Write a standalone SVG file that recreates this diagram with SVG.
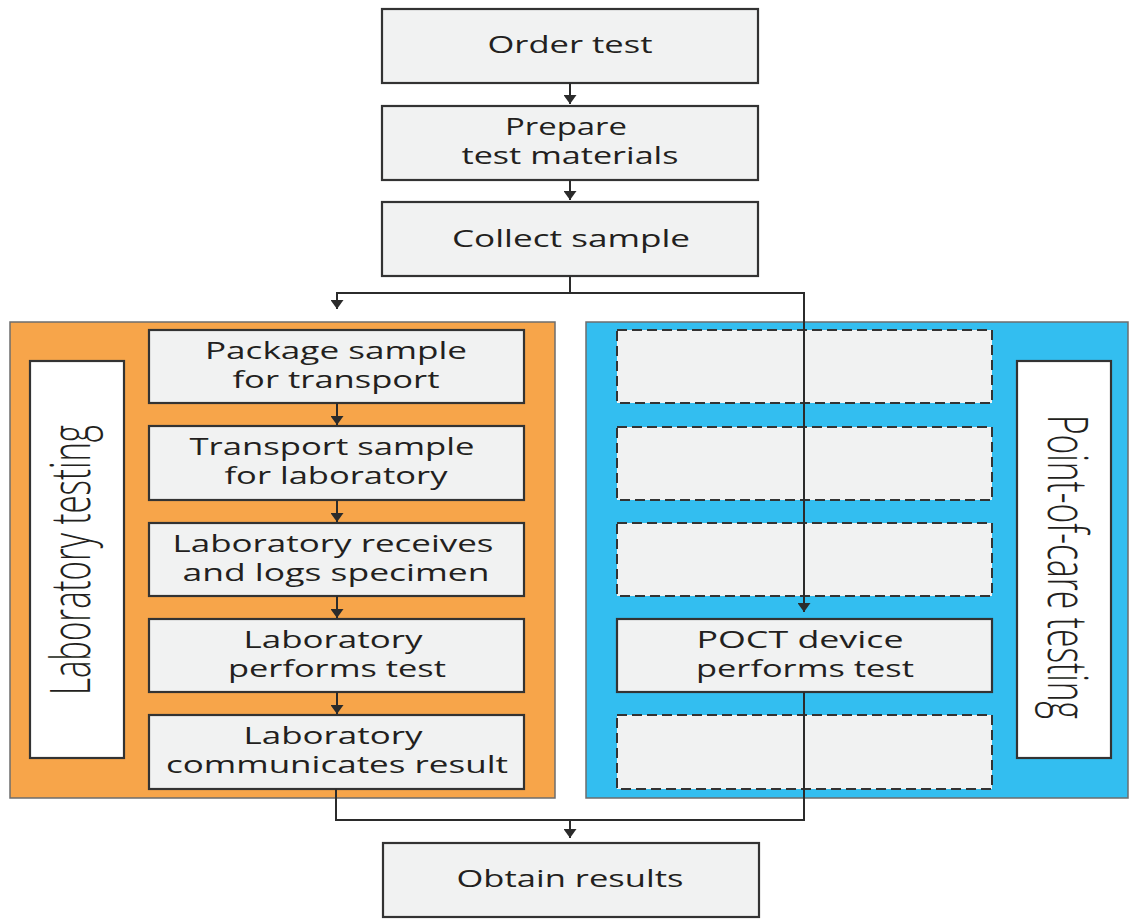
<svg xmlns="http://www.w3.org/2000/svg" width="1129" height="919" viewBox="0 0 1129 919">
<defs>
<marker id="arr" viewBox="0 0 9 13" refX="9" refY="6.5" orient="auto" markerUnits="userSpaceOnUse" markerWidth="9" markerHeight="13" preserveAspectRatio="none">
<path d="M0,0 L9,6.5 L0,13 z" fill="#2b2b2b"/>
</marker>
</defs>
<style>
.box{fill:#f1f2f2;stroke:#333;stroke-width:2.2}
.dash{fill:#f1f2f2;stroke:#333;stroke-width:2;stroke-dasharray:10 5}
.panel{stroke:#6d6d6d;stroke-width:1.5}
.lbl{fill:#fff;stroke:#333;stroke-width:2.2}
.t{font-family:"Open Sans","Liberation Sans",sans-serif;font-size:23px;fill:#231f20;text-anchor:middle}
.v{font-family:"Open Sans","Liberation Sans",sans-serif;font-size:55px;font-weight:300;fill:#231f20;text-anchor:middle}
.c{fill:none;stroke:#2b2b2b;stroke-width:2}
</style>
<rect width="1129" height="919" fill="#fff"/>

<g id="panel-lab">
<rect class="panel" x="10" y="322" width="545" height="476" fill="#f7a54a"/>
</g>
<g id="panel-poct">
<rect class="panel" x="586" y="322" width="542" height="476" fill="#33bef0"/>
</g>

<g id="label-lab">
<rect class="lbl" x="30" y="361" width="94" height="397"/>
<text class="v" transform="translate(90,560) rotate(-90)" textLength="270" lengthAdjust="spacingAndGlyphs">Laboratory testing</text>
</g>
<g id="label-poct">
<rect class="lbl" x="1017" y="361" width="94" height="397"/>
<text class="v" transform="translate(1048,567) rotate(90)" textLength="304" lengthAdjust="spacingAndGlyphs">Point-of-care testing</text>
</g>

<g id="order-test">
<rect class="box" x="382" y="9" width="376" height="74"/>
<text class="t" x="570" y="53" textLength="165" lengthAdjust="spacingAndGlyphs">Order test</text>
</g>
<g id="prepare">
<rect class="box" x="382" y="106" width="376" height="74"/>
<text class="t" x="566" y="135" textLength="122" lengthAdjust="spacingAndGlyphs">Prepare</text>
<text class="t" x="570" y="164" textLength="217" lengthAdjust="spacingAndGlyphs">test materials</text>
</g>
<g id="collect">
<rect class="box" x="382" y="202" width="376" height="74"/>
<text class="t" x="571" y="247" textLength="238" lengthAdjust="spacingAndGlyphs">Collect sample</text>
</g>

<g id="package">
<rect class="box" x="149" y="330" width="375" height="73"/>
<text class="t" x="336" y="359" textLength="262" lengthAdjust="spacingAndGlyphs">Package sample</text>
<text class="t" x="336" y="388" textLength="207" lengthAdjust="spacingAndGlyphs">for transport</text>
</g>
<g id="transport">
<rect class="box" x="149" y="426" width="375" height="74"/>
<text class="t" x="332" y="455" textLength="285" lengthAdjust="spacingAndGlyphs">Transport sample</text>
<text class="t" x="336" y="484" textLength="223" lengthAdjust="spacingAndGlyphs">for laboratory</text>
</g>
<g id="receives">
<rect class="box" x="149" y="523" width="375" height="73"/>
<text class="t" x="333" y="552" textLength="321" lengthAdjust="spacingAndGlyphs">Laboratory receives</text>
<text class="t" x="336" y="581" textLength="307" lengthAdjust="spacingAndGlyphs">and logs specimen</text>
</g>
<g id="performs">
<rect class="box" x="149" y="619" width="375" height="73"/>
<text class="t" x="333" y="648" textLength="179" lengthAdjust="spacingAndGlyphs">Laboratory</text>
<text class="t" x="337" y="677" textLength="218" lengthAdjust="spacingAndGlyphs">performs test</text>
</g>
<g id="communicates">
<rect class="box" x="149" y="715" width="375" height="74"/>
<text class="t" x="333" y="744" textLength="179" lengthAdjust="spacingAndGlyphs">Laboratory</text>
<text class="t" x="337" y="773" textLength="342" lengthAdjust="spacingAndGlyphs">communicates result</text>
</g>

<g id="poct-empty-1"><rect class="dash" x="617" y="330" width="375" height="73"/></g>
<g id="poct-empty-2"><rect class="dash" x="617" y="427" width="375" height="73"/></g>
<g id="poct-empty-3"><rect class="dash" x="617" y="523" width="375" height="73"/></g>
<g id="poct-device">
<rect class="box" x="617" y="619" width="375" height="73"/>
<text class="t" x="800" y="648" textLength="207" lengthAdjust="spacingAndGlyphs">POCT device</text>
<text class="t" x="805" y="677" textLength="218" lengthAdjust="spacingAndGlyphs">performs test</text>
</g>
<g id="poct-empty-5"><rect class="dash" x="617" y="715" width="375" height="74"/></g>

<g id="obtain">
<rect class="box" x="383" y="843" width="376" height="74"/>
<text class="t" x="570" y="887" textLength="227" lengthAdjust="spacingAndGlyphs">Obtain results</text>
</g>

<g id="connectors">
<line class="c" x1="570" y1="83" x2="570" y2="104" marker-end="url(#arr)"/>
<line class="c" x1="570" y1="180" x2="570" y2="200" marker-end="url(#arr)"/>
<polyline class="c" points="570,276 570,293 337,293 337,309" marker-end="url(#arr)"/>
<polyline class="c" points="570,293 804,293 804,612" marker-end="url(#arr)"/>
<line class="c" x1="337" y1="403" x2="337" y2="425" marker-end="url(#arr)"/>
<line class="c" x1="337" y1="500" x2="337" y2="522" marker-end="url(#arr)"/>
<line class="c" x1="337" y1="596" x2="337" y2="618" marker-end="url(#arr)"/>
<line class="c" x1="337" y1="692" x2="337" y2="714" marker-end="url(#arr)"/>
<polyline class="c" points="336,789 336,820 804,820 804,692"/>
<line class="c" x1="570" y1="820" x2="570" y2="838" marker-end="url(#arr)"/>
</g>
</svg>
